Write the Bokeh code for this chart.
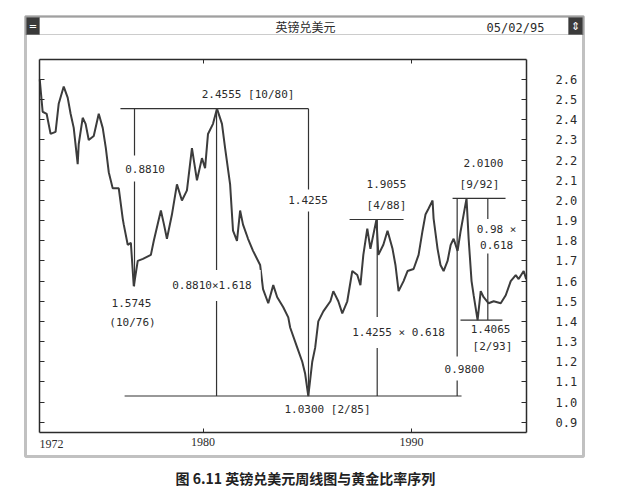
from bokeh.plotting import figure
from bokeh.models import (LinearAxis, FixedTicker, Range1d, Label, BoxAnnotation,
                          PrintfTickFormatter)
from bokeh.embed import file_html
from bokeh.resources import INLINE

# ---------------- data (weekly GBP/USD path) ----------------
years = [1972.17, 1972.31, 1972.50, 1972.69, 1972.93, 1973.08, 1973.32, 1973.51, 1973.65, 1973.80,
         1973.99, 1974.04, 1974.23, 1974.37, 1974.52, 1974.76, 1975.00, 1975.19, 1975.34, 1975.48,
         1975.67, 1975.96, 1976.15, 1976.20, 1976.39, 1976.54, 1976.68, 1976.87, 1977.12, 1977.50,
         1977.64, 1977.98, 1978.13, 1978.27, 1978.51, 1978.75, 1978.99, 1979.23, 1979.47, 1979.71,
         1979.95, 1980.10, 1980.24, 1980.48, 1980.67, 1980.91, 1981.06, 1981.30, 1981.44, 1981.63,
         1981.78, 1981.92, 1982.16, 1982.40, 1982.74, 1982.88, 1983.13, 1983.37, 1983.56, 1983.85,
         1984.09, 1984.18, 1984.52, 1984.76, 1984.90, 1985.05, 1985.24, 1985.38, 1985.53, 1985.77,
         1986.11, 1986.25, 1986.49, 1986.68, 1986.92, 1987.16, 1987.40, 1987.55, 1987.69, 1987.88,
         1988.03, 1988.32, 1988.41, 1988.65, 1988.85, 1989.09, 1989.23, 1989.38, 1989.62, 1989.81,
         1990.10, 1990.34, 1990.53, 1990.67, 1990.82, 1991.01, 1991.06, 1991.25, 1991.39, 1991.54,
         1991.73, 1991.88, 1992.02, 1992.21, 1992.36, 1992.50, 1992.64, 1992.74, 1992.88, 1992.98,
         1993.17, 1993.32, 1993.46, 1993.70, 1993.94, 1994.28, 1994.52, 1994.76, 1995.00, 1995.14,
         1995.38, 1995.50]
rates = [2.60, 2.44, 2.43, 2.33, 2.34, 2.48, 2.565, 2.51, 2.43, 2.36,
         2.18, 2.28, 2.41, 2.38, 2.30, 2.32, 2.43, 2.36, 2.26, 2.14,
         2.06, 2.06, 1.91, 1.88, 1.78, 1.79, 1.5745, 1.70, 1.71, 1.73,
         1.80, 1.95, 1.88, 1.81, 1.93, 2.08, 2.00, 2.05, 2.26, 2.10,
         2.21, 2.16, 2.33, 2.38, 2.4555, 2.38, 2.26, 2.08, 1.85, 1.80,
         1.95, 1.88, 1.81, 1.75, 1.68, 1.56, 1.49, 1.58, 1.52, 1.47,
         1.42, 1.37, 1.27, 1.20, 1.14, 1.03, 1.20, 1.27, 1.40, 1.45,
         1.50, 1.55, 1.50, 1.44, 1.50, 1.65, 1.63, 1.58, 1.73, 1.86,
         1.76, 1.9055, 1.73, 1.78, 1.85, 1.76, 1.68, 1.55, 1.60, 1.65,
         1.66, 1.73, 1.85, 1.93, 1.96, 2.00, 1.91, 1.76, 1.68, 1.65,
         1.70, 1.78, 1.81, 1.75, 1.85, 1.93, 2.01, 1.81, 1.60, 1.53,
         1.4065, 1.55, 1.52, 1.49, 1.50, 1.49, 1.53, 1.60, 1.63, 1.61,
         1.65, 1.61]

# y-axis ticks and x-axis ticks
y_ticks = [0.9, 1.0, 1.1, 1.2, 1.3, 1.4, 1.5, 1.6, 1.7, 1.8, 1.9, 2.0, 2.1, 2.2, 2.3, 2.4, 2.5, 2.6]
x_ticks = [1980, 1990]
first_year_label = "1972"

# Fibonacci guide levels (horizontal) and their spans
level_vals = [2.4555, 1.0300, 1.9055, 2.0100, 1.4065]
level_x0 = [1976.04, 1976.24, 1987.03, 1991.97, 1992.35]
level_x1 = [1985.06, 1992.40, 1989.62, 1994.51, 1994.36]
# vertical measuring lines
vert_x = [1976.715, 1980.65, 1985.06, 1988.355, 1992.19, 1993.66]
vert_lo = [1.5745, 1.0300, 1.0300, 1.0300, 1.0300, 1.4065]
vert_hi = [2.4555, 2.4555, 2.4555, 1.9055, 2.0100, 2.0100]

# annotation texts: (text, x, y, gap padding around text where a line crosses it; 0 = none)
notes = [
    ("2.4555 [10/80]", 1982.16, 2.526, 0),
    ("0.8810", 1977.22, 2.158, 9),
    ("0.8810×1.618", 1980.43, 1.578, 9),
    ("1.4255", 1985.04, 2.000, 7),
    ("1.5745", 1976.57, 1.489, 0),
    ("(10/76)", 1976.62, 1.395, 0),
    ("1.0300 [2/85]", 1985.97, 0.963, 0),
    ("1.9055", 1988.80, 2.084, 0),
    ("[4/88]", 1988.80, 1.975, 0),
    ("1.4255 × 0.618", 1989.38, 1.345, 9),
    ("2.0100", 1993.45, 2.188, 0),
    ("[9/92]", 1993.26, 2.079, 0),
    ("0.98 ×", 1994.08, 1.856, 4),
    ("0.618", 1994.08, 1.777, 4),
    ("0.9800", 1992.54, 1.166, 8),
    ("1.4065", 1993.79, 1.360, 0),
    ("[2/93]", 1993.88, 1.276, 0),
]

# ---------------- geometry ----------------
W, H = 621, 492

def xd(px):   # picture pixel -> year
    return 1980 + (px - 202.5) / 20.85

def yd(py):   # picture pixel -> rate
    return 2.6 - (py - 79) / 201.6

# inner chart box
X0, X1 = xd(39), xd(526)
Y0, Y1 = yd(432), yd(59)

INK = "#2b2b2b"
MONO = "DejaVu Sans Mono"

p = figure(width=W, height=H, output_backend="svg", toolbar_location=None,
           x_range=Range1d(xd(0), xd(W)), y_range=Range1d(yd(H), yd(0)),
           x_axis_location=None, y_axis_location=None)
p.min_border = 0
p.background_fill_color = "white"
p.border_fill_color = "white"
p.outline_line_color = None
p.xgrid.visible = False
p.ygrid.visible = False


def style_axis(ax, tick_in, show_labels):
    ax.major_tick_in = tick_in
    ax.major_tick_out = 0
    ax.minor_tick_line_color = None
    ax.axis_line_color = INK
    ax.axis_line_width = 1.5
    ax.major_tick_line_color = INK
    if not show_labels:
        ax.major_label_text_color = None
        ax.major_label_standoff = 0


yr = LinearAxis(ticker=FixedTicker(ticks=y_ticks), formatter=PrintfTickFormatter(format="%.1f"),
                fixed_location=X1, bounds=(Y0, Y1))
style_axis(yr, 5, True)
yr.major_label_standoff = 29
yr.major_label_text_font = MONO
yr.major_label_text_font_size = "12px"
yr.major_label_text_color = INK
yr.major_label_text_align = "left"
p.add_layout(yr, "right")

yl = LinearAxis(ticker=FixedTicker(ticks=y_ticks), fixed_location=X0, bounds=(Y0, Y1))
style_axis(yl, 5, False)
p.add_layout(yl, "left")

xb = LinearAxis(ticker=FixedTicker(ticks=x_ticks), fixed_location=Y0, bounds=(X0, X1))
style_axis(xb, 4, True)
xb.major_label_standoff = 5
xb.major_label_text_font = "Liberation Serif"
xb.major_label_text_font_size = "12px"
xb.major_label_text_color = INK
p.add_layout(xb, "below")

xt = LinearAxis(ticker=FixedTicker(ticks=x_ticks), fixed_location=Y1, bounds=(X0, X1))
style_axis(xt, 4, False)
p.add_layout(xt, "above")

# guide lines
p.segment(x0=level_x0, y0=level_vals, x1=level_x1, y1=level_vals, line_color="#333333", line_width=1.2)
p.segment(x0=vert_x, y0=vert_lo, x1=vert_x, y1=vert_hi, line_color="#333333", line_width=1.2)

# price path
p.line(years, rates, line_color="#3c3c3c", line_width=2)

for txt, x, y, gap in notes:
    lab = Label(x=x, y=y, text=txt, text_align="center", text_baseline="middle",
                text_font=MONO, text_font_size="11px", text_color=INK)
    if gap:
        lab.background_fill_color = "white"
        lab.padding = gap
    p.add_layout(lab)

# "1972" at the left end of the time axis
p.add_layout(Label(x=X0, y=yd(443), text=first_year_label, text_align="left", text_baseline="middle",
                   text_font="Liberation Serif", text_font_size="12px", text_color=INK))

# ---------------- window chrome ----------------
p.add_layout(BoxAnnotation(left=xd(25), right=xd(583), top=yd(16), bottom=yd(456),
                           fill_color=None, line_color="#333333", line_width=3))
p.add_layout(BoxAnnotation(left=xd(25), right=xd(583), top=yd(16), bottom=yd(34),
                           fill_color=None, line_color="#555555", line_width=1))
p.add_layout(BoxAnnotation(left=xd(26), right=xd(39), top=yd(17), bottom=yd(34),
                           fill_color="#3a3a3a", fill_alpha=1, line_color="#3a3a3a"))
p.add_layout(BoxAnnotation(left=xd(568), right=xd(582), top=yd(17), bottom=yd(34),
                           fill_color="#3a3a3a", fill_alpha=1, line_color="#3a3a3a"))
p.add_layout(Label(x=xd(32.5), y=yd(25.5), text="=", text_align="center", text_baseline="middle",
                   text_font="DejaVu Sans", text_font_size="10px", text_color="white"))
p.add_layout(Label(x=xd(575), y=yd(25.5), text="⇕", text_align="center", text_baseline="middle",
                   text_font="DejaVu Sans", text_font_size="11px", text_color="white"))
p.add_layout(Label(x=xd(305), y=yd(26), text="英镑兑美元", text_align="center", text_baseline="middle",
                   text_font="Noto Sans CJK SC", text_font_size="12px", text_color=INK))
p.add_layout(Label(x=xd(515), y=yd(27), text="05/02/95", text_align="center", text_baseline="middle",
                   text_font=MONO, text_font_size="12px", text_color=INK))

# caption
p.add_layout(Label(x=xd(308), y=yd(477), text="图 6.11   英镑兑美元周线图与黄金比率序列",
                   text_align="center", text_baseline="middle",
                   text_font="Noto Sans CJK SC", text_font_size="14px", text_font_style="bold",
                   text_color="#222222"))

open("out.html", "w").write(file_html(p, INLINE))
